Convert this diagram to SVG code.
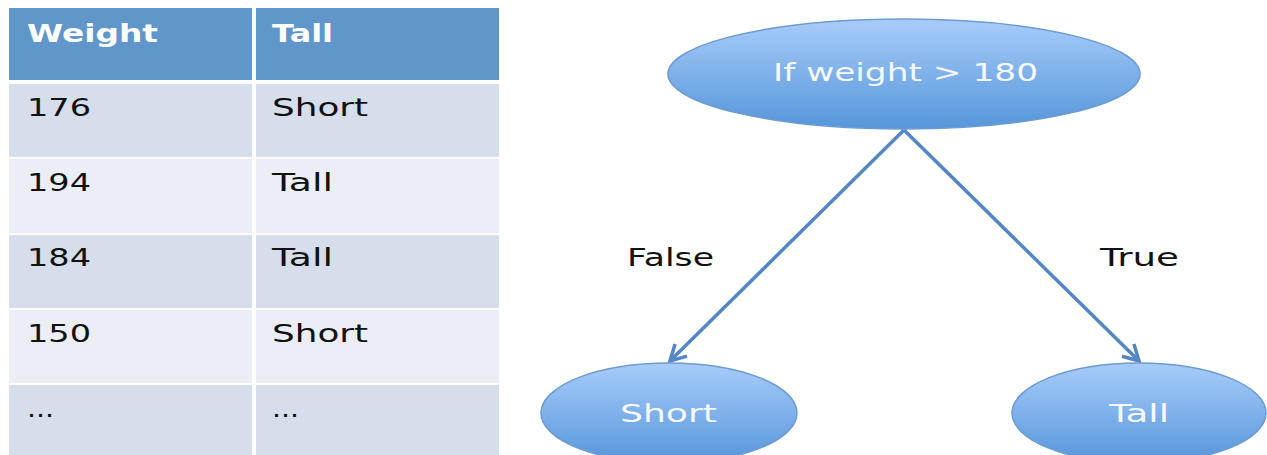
<svg xmlns="http://www.w3.org/2000/svg" width="1267" height="455" viewBox="0 0 1267 455">
<style>
.hd{fill:#6096C9}
.odd{fill:#D6DEEC}
.even{fill:#EBEFF5}
.t{font-family:"DejaVu Sans","Verdana",sans-serif;font-size:24px;fill:#111}
.th{font-family:"DejaVu Sans","Verdana",sans-serif;font-size:24px;font-weight:bold;fill:#fff}
.nt{font-family:"DejaVu Sans","Verdana",sans-serif;font-size:24px;fill:#F5F8FC}
.lb{font-family:"DejaVu Sans","Verdana",sans-serif;font-size:24px;fill:#111}
.el{fill:url(#g);stroke:#6C9BD2;stroke-width:1.5}
.cn{stroke:#5486C3;stroke-width:3.5;fill:none}
</style>
<defs>
<linearGradient id="g" x1="0" y1="0" x2="0" y2="1">
<stop offset="0" stop-color="#A8CCFA"/>
<stop offset="1" stop-color="#5696DA"/>
</linearGradient>
<marker id="arr" viewBox="0 0 22 22" refX="18.5" refY="11" markerWidth="22" markerHeight="22" orient="auto" markerUnits="userSpaceOnUse">
<path d="M3,2.5 L18.5,11 L3,19.5" fill="none" stroke="#5486C3" stroke-width="3.5"/>
</marker>
</defs>
<rect width="1267" height="455" fill="#fff"/>
<g id="table">
<rect class="hd" x="9" y="8" width="243" height="72"/>
<rect class="hd" x="256" y="8" width="243" height="72"/>
<rect class="odd" x="9" y="84" width="243" height="73"/>
<rect class="odd" x="256" y="84" width="243" height="73"/>
<rect class="even" x="9" y="159" width="243" height="74"/>
<rect class="even" x="256" y="159" width="243" height="74"/>
<rect class="odd" x="9" y="235" width="243" height="73"/>
<rect class="odd" x="256" y="235" width="243" height="73"/>
<rect class="even" x="9" y="310" width="243" height="73"/>
<rect class="even" x="256" y="310" width="243" height="73"/>
<rect class="odd" x="9" y="385" width="243" height="75"/>
<rect class="odd" x="256" y="385" width="243" height="75"/>
<text class="th" x="27" y="42" textLength="131" lengthAdjust="spacingAndGlyphs">Weight</text>
<text class="th" x="272" y="42" textLength="61" lengthAdjust="spacingAndGlyphs">Tall</text>
<text class="t" x="27" y="116" textLength="64" lengthAdjust="spacingAndGlyphs">176</text>
<text class="t" x="272" y="116" textLength="96" lengthAdjust="spacingAndGlyphs">Short</text>
<text class="t" x="27" y="191" textLength="64" lengthAdjust="spacingAndGlyphs">194</text>
<text class="t" x="272" y="191" textLength="61" lengthAdjust="spacingAndGlyphs">Tall</text>
<text class="t" x="27" y="266" textLength="64" lengthAdjust="spacingAndGlyphs">184</text>
<text class="t" x="272" y="266" textLength="61" lengthAdjust="spacingAndGlyphs">Tall</text>
<text class="t" x="27" y="342" textLength="64" lengthAdjust="spacingAndGlyphs">150</text>
<text class="t" x="272" y="342" textLength="96" lengthAdjust="spacingAndGlyphs">Short</text>
<text class="t" x="27" y="417" textLength="27" lengthAdjust="spacingAndGlyphs">...</text>
<text class="t" x="272" y="417" textLength="27" lengthAdjust="spacingAndGlyphs">...</text>
</g>
<g id="connectors">
<line class="cn" x1="904" y1="130" x2="670" y2="361" marker-end="url(#arr)"/>
<line class="cn" x1="904" y1="130" x2="1139" y2="361" marker-end="url(#arr)"/>
<text class="lb" x="627" y="266" textLength="87" lengthAdjust="spacingAndGlyphs">False</text>
<text class="lb" x="1100" y="266" textLength="79" lengthAdjust="spacingAndGlyphs">True</text>
</g>
<g id="root">
<ellipse class="el" cx="904" cy="74" rx="236" ry="55"/>
<text class="nt" x="773" y="81" textLength="265" lengthAdjust="spacingAndGlyphs">If weight &gt; 180</text>
</g>
<g id="short">
<ellipse class="el" cx="669" cy="413" rx="128" ry="50"/>
<text class="nt" x="620" y="422" textLength="97" lengthAdjust="spacingAndGlyphs">Short</text>
</g>
<g id="tall">
<ellipse class="el" cx="1139" cy="413" rx="127" ry="50"/>
<text class="nt" x="1109" y="422" textLength="60" lengthAdjust="spacingAndGlyphs">Tall</text>
</g>
</svg>
